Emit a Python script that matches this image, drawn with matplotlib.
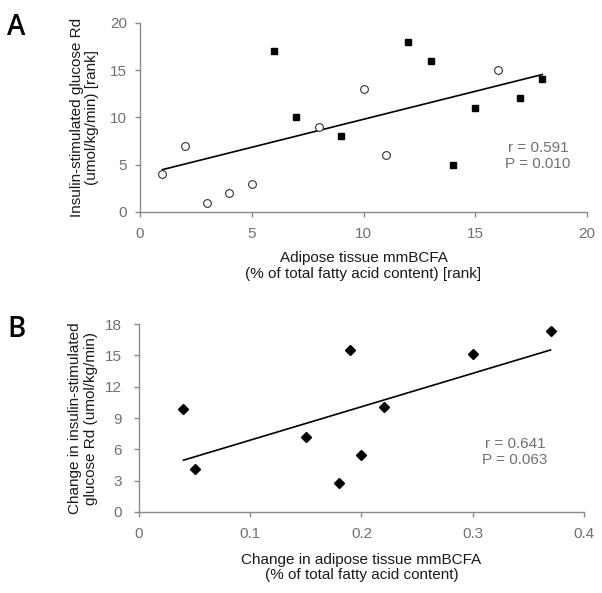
import numpy as np
import matplotlib
matplotlib.use('Agg')
import matplotlib.pyplot as plt

plt.rcParams['font.family'] = ['Liberation Sans', 'DejaVu Sans']

# Panel A: ranks
a_open_x = [1, 2, 3, 4, 5, 8, 10, 11, 16]
a_open_y = [4, 7, 1, 2, 3, 9, 13, 6, 15]
a_fill_x = [6, 7, 9, 12, 13, 14, 15, 17, 18]
a_fill_y = [17, 10, 8, 18, 16, 5, 11, 12, 14]

# Panel B: changes
b_x = [0.04, 0.05, 0.15, 0.18, 0.19, 0.20, 0.22, 0.30, 0.37]
b_y = [9.9, 4.1, 7.2, 2.8, 15.5, 5.5, 10.1, 15.1, 17.3]

GRAY = '#8a8a8a'
TICK_GRAY = '#707070'
LABEL_C = '#1a1a1a'


def style(ax, ypad):
    for s in ['top', 'right']:
        ax.spines[s].set_visible(False)
    for s in ['left', 'bottom']:
        ax.spines[s].set_color(GRAY)
        ax.spines[s].set_linewidth(1.0)
    ax.tick_params(colors=GRAY, labelcolor=TICK_GRAY, labelsize=11, length=3.5, width=1.0, direction='out')
    ax.tick_params(axis='x', pad=7)
    ax.tick_params(axis='y', pad=ypad)


fig = plt.figure(figsize=(6.02, 5.93), dpi=100)

# Panel A
ax1 = fig.add_axes([0.2326, 0.6425, 0.7425, 0.3192])
all_x = np.array(a_open_x + a_fill_x)
all_y = np.array(a_open_y + a_fill_y)
k, b = np.polyfit(all_x, all_y, 1)
xl = np.array([all_x.min(), all_x.max()])
ax1.plot(xl, k * xl + b, color='black', lw=1.2)
ax1.plot(a_open_x, a_open_y, 'o', mfc='white', mec='#333333', mew=0.8, ms=5.6, ls='none')
ax1.plot(a_fill_x, a_fill_y, 's', color='black', ms=4.6, ls='none')
ax1.set_xlim(0, 20)
ax1.set_ylim(0, 20)
ax1.set_xticks([0, 5, 10, 15, 20])
ax1.set_yticks([0, 5, 10, 15, 20])
style(ax1, 6)
ax1.set_xlabel('Adipose tissue mmBCFA\n(% of total fatty acid content) [rank]', fontsize=11, color=LABEL_C, va='center', linespacing=1.15)
ax1.xaxis.set_label_coords(0.5, -0.285)
ax1.set_ylabel('Insulin-stimulated glucose Rd\n(umol/kg/min) [rank]', fontsize=11, color=LABEL_C, va='center', linespacing=1.1)
ax1.yaxis.set_label_coords(-0.124, 0.5)
ax1.text(17.8, 5.95, 'r = 0.591\nP = 0.010', ha='center', va='center', fontsize=11, color=TICK_GRAY, linespacing=1.2)
fig.text(0.012, 0.978, 'A', fontsize=20, fontweight='semibold', family='Open Sans', ha='left', va='top', color='black')

# Panel B
ax2 = fig.add_axes([0.2309, 0.1366, 0.739, 0.317])
bx = np.array(b_x)
by = np.array(b_y)
k2, b2 = np.polyfit(bx, by, 1)
xl2 = np.array([bx.min(), bx.max()])
ax2.plot(xl2, k2 * xl2 + b2, color='black', lw=1.2)
ax2.plot(b_x, b_y, 'D', color='black', ms=4.7, ls='none')
ax2.set_xlim(0, 0.4)
ax2.set_ylim(0, 18)
ax2.set_xticks([0, 0.1, 0.2, 0.3, 0.4])
ax2.set_xticklabels(['0', '0.1', '0.2', '0.3', '0.4'])
ax2.set_yticks([0, 3, 6, 9, 12, 15, 18])
style(ax2, 9)
ax2.set_xlabel('Change in adipose tissue mmBCFA\n(% of total fatty acid content)', fontsize=11, color=LABEL_C, va='center', linespacing=1.15)
ax2.xaxis.set_label_coords(0.5, -0.295)
ax2.set_ylabel('Change in insulin-stimulated\nglucose Rd (umol/kg/min)', fontsize=11, color=LABEL_C, va='center', linespacing=1.25)
ax2.yaxis.set_label_coords(-0.126, 0.5)
ax2.text(0.338, 5.74, 'r = 0.641\nP = 0.063', ha='center', va='center', fontsize=11, color=TICK_GRAY, linespacing=1.2)
fig.text(0.012, 0.468, 'B', fontsize=20, fontweight='semibold', family='Open Sans', ha='left', va='top', color='black')

fig.savefig('out.png', dpi=100)
